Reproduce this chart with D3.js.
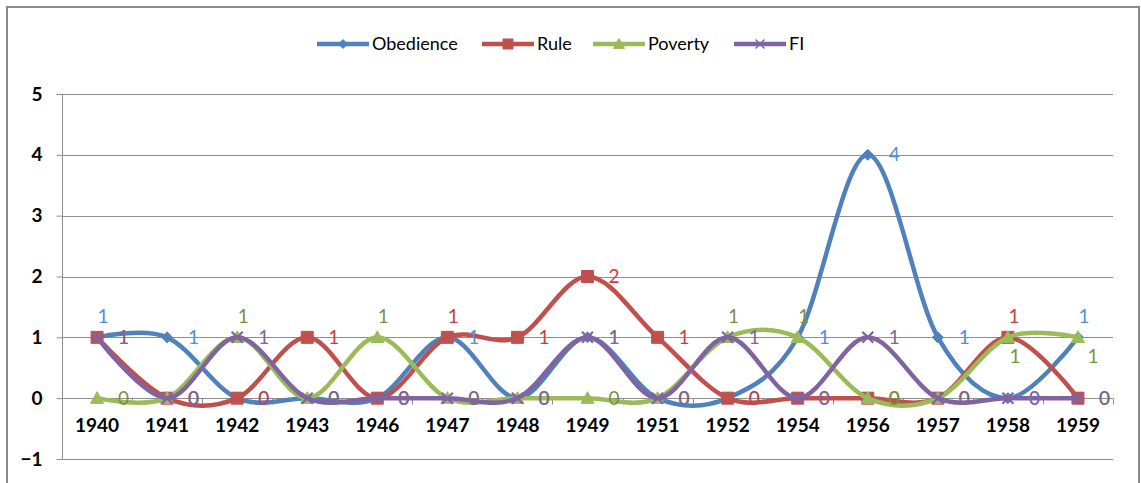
<!DOCTYPE html>
<html>
<head>
<meta charset="utf-8">
<script src="https://cdn.jsdelivr.net/npm/d3@7"></script>
<style>
  html, body { margin: 0; padding: 0; background: #ffffff; }
  svg { display: block; }
</style>
</head>
<body>
<svg id="chart" width="1141" height="483"></svg>
<script>
// ---- data ----
const categories = ["1940","1941","1942","1943","1946","1947","1948","1949","1951","1952","1954","1956","1957","1958","1959"];
const seriesNames = ["Obedience","Rule","Poverty","FI"];
const obedience = [1,1,0,0,0,1,0,1,0,0,1,4,1,0,1];
const rule      = [1,0,0,1,0,1,1,2,1,0,0,0,0,1,0];
const poverty   = [0,0,1,0,1,0,0,0,0,1,1,0,0,1,1];
const fi        = [1,0,1,0,0,0,0,1,0,1,0,1,0,0,0];
const yTicks = [-1,0,1,2,3,4,5];
// label placement exceptions (default: right of point)
const labelPlacement = [
  {series:"Obedience", cat:"1940", pos:"above"},
  {series:"Poverty",   cat:"1942", pos:"above"},
  {series:"Poverty",   cat:"1946", pos:"above"},
  {series:"Rule",      cat:"1947", pos:"above"},
  {series:"Poverty",   cat:"1952", pos:"above"},
  {series:"Poverty",   cat:"1954", pos:"above"},
  {series:"Rule",      cat:"1958", pos:"above"},
  {series:"Poverty",   cat:"1958", pos:"below"},
  {series:"Obedience", cat:"1959", pos:"above"},
  {series:"Poverty",   cat:"1959", pos:"belowRight"}
];

// ---- styles ----
const colors = {Obedience:"#4F81BD", Rule:"#C0504D", Poverty:"#9BBB59", FI:"#8064A2"};
const labelColors = {Obedience:"#4F8FDB", Rule:"#C8403D", Poverty:"#77933C", FI:"#8064A2"};
const markers = {Obedience:"diamond", Rule:"square", Poverty:"triangle", FI:"x"};
const values = {Obedience:obedience, Rule:rule, Poverty:poverty, FI:fi};
const font = "Lato, 'Open Sans', sans-serif";
const gridColor = "#8E8E8E";

const svg = d3.select("#chart");
const plot = {left:62, right:1113, top:94, bottom:459};

// chart frame
svg.append("rect").attr("x",7).attr("y",7).attr("width",1132).attr("height",500)
  .attr("fill","#fff").attr("stroke","#8A8A8A").attr("stroke-width",2);

const x = d3.scaleBand().domain(categories).range([plot.left, plot.right]).padding(0);
const y = d3.scaleLinear().domain([-1,5]).range([plot.bottom, plot.top]);
const cx = c => x(c) + x.bandwidth()/2;

// gridlines
svg.append("g").selectAll("line").data(yTicks).join("line")
  .attr("x1",plot.left).attr("x2",plot.right)
  .attr("y1",d=>Math.round(y(d))+0.5).attr("y2",d=>Math.round(y(d))+0.5)
  .attr("stroke",gridColor).attr("stroke-width",1);

// y axis
const yAxis = d3.axisLeft(y).tickValues(yTicks).tickSize(6).tickPadding(14).tickFormat(d3.format("d"));
const gy = svg.append("g").attr("transform",`translate(${plot.left+0.5},0)`).call(yAxis);
gy.select(".domain").attr("stroke",gridColor).attr("d",`M0,${plot.top}V${plot.bottom}`);
gy.selectAll(".tick line").attr("stroke",gridColor);
gy.selectAll(".tick text").attr("font-family",font).attr("font-size",19).attr("font-weight","bold").attr("fill","#000");

// x axis at y=0
const x0 = Math.round(y(0))+0.5;
const gx = svg.append("g").attr("transform",`translate(0,${x0})`)
  .call(d3.axisBottom(x).tickSize(0).tickPadding(20));
gx.select(".domain").attr("stroke",gridColor).attr("d",`M${plot.left},0H${plot.right}`);
gx.selectAll(".tick text").attr("font-family",font).attr("font-size",19).attr("font-weight","bold").attr("fill","#000");
// category boundary tick marks
const bounds = categories.map(c => x(c)).concat([plot.right]).slice(1);
svg.append("g").selectAll("line").data(bounds).join("line")
  .attr("x1",d=>Math.round(d)+0.5).attr("x2",d=>Math.round(d)+0.5)
  .attr("y1",x0).attr("y2",x0+6).attr("stroke",gridColor);

// marker path
function markerPath(type, size){
  const s = size/2;
  if(type==="diamond") return `M0,${-s}L${s},0L0,${s}L${-s},0Z`;
  if(type==="square") return `M${-s},${-s}H${s}V${s}H${-s}Z`;
  if(type==="triangle") return `M0,${-s}L${s},${s*0.8}L${-s},${s*0.8}Z`;
  return `M${-s},${-s}L${s},${s}M${s},${-s}L${-s},${s}`;
}
const markerSize = {diamond:11, square:12, triangle:13, x:11};

// lines + markers
const line = d3.line().x(d=>cx(d.c)).y(d=>y(d.v)).curve(d3.curveCardinal.tension(0));
seriesNames.forEach(name => {
  const pts = categories.map((c,i)=>({c, v: values[name][i]}));
  const g = svg.append("g");
  g.append("path").datum(pts).attr("d",line).attr("fill","none")
    .attr("stroke",colors[name]).attr("stroke-width",4.5).attr("stroke-linejoin","round").attr("stroke-linecap","round");
  const m = markers[name];
  g.selectAll("path.mk").data(pts).join("path").attr("class","mk")
    .attr("transform",d=>`translate(${cx(d.c)},${y(d.v)})`)
    .attr("d",markerPath(m, markerSize[m]))
    .attr("fill", m==="x" ? "none" : colors[name])
    .attr("stroke",colors[name]).attr("stroke-width", m==="x" ? 2.2 : 1);
});

// data labels
const offsets = {right:[21,0], above:[6,-21], below:[7,19], belowRight:[15,19]};
seriesNames.forEach(name => {
  const pts = categories.map((c,i)=>{
    const p = labelPlacement.find(l=>l.series===name && l.cat===c);
    return {c, v: values[name][i], pos: p ? p.pos : "right"};
  });
  svg.append("g").selectAll("text").data(pts).join("text")
    .attr("x",d=>cx(d.c)+offsets[d.pos][0])
    .attr("y",d=>y(d.v)+offsets[d.pos][1])
    .attr("dy","0.35em")
    .attr("text-anchor", d=>d.pos==="right" ? "start" : "middle")
    .attr("font-family",font).attr("font-size",19).attr("fill",labelColors[name])
    .text(d=>d.v);
});

// legend
const legendItems = [
  {name:"Obedience", x:317},
  {name:"Rule", x:482},
  {name:"Poverty", x:593},
  {name:"FI", x:734}
];
const lg = svg.append("g").attr("transform","translate(0,44)");
legendItems.forEach(it => {
  const g = lg.append("g").attr("transform",`translate(${it.x},0)`);
  g.append("line").attr("x1",0).attr("x2",52).attr("y1",0).attr("y2",0)
    .attr("stroke",colors[it.name]).attr("stroke-width",4.5);
  const m = markers[it.name];
  g.append("path").attr("transform","translate(26,0)")
    .attr("d",markerPath(m, markerSize[m]-2))
    .attr("fill", m==="x" ? "none" : colors[it.name])
    .attr("stroke",colors[it.name]).attr("stroke-width", m==="x" ? 1.5 : 1);
  g.append("text").attr("x",55).attr("y",0).attr("dy","0.36em")
    .attr("font-family",font).attr("font-size",18).attr("fill","#000").text(it.name);
});
</script>
</body>
</html>
